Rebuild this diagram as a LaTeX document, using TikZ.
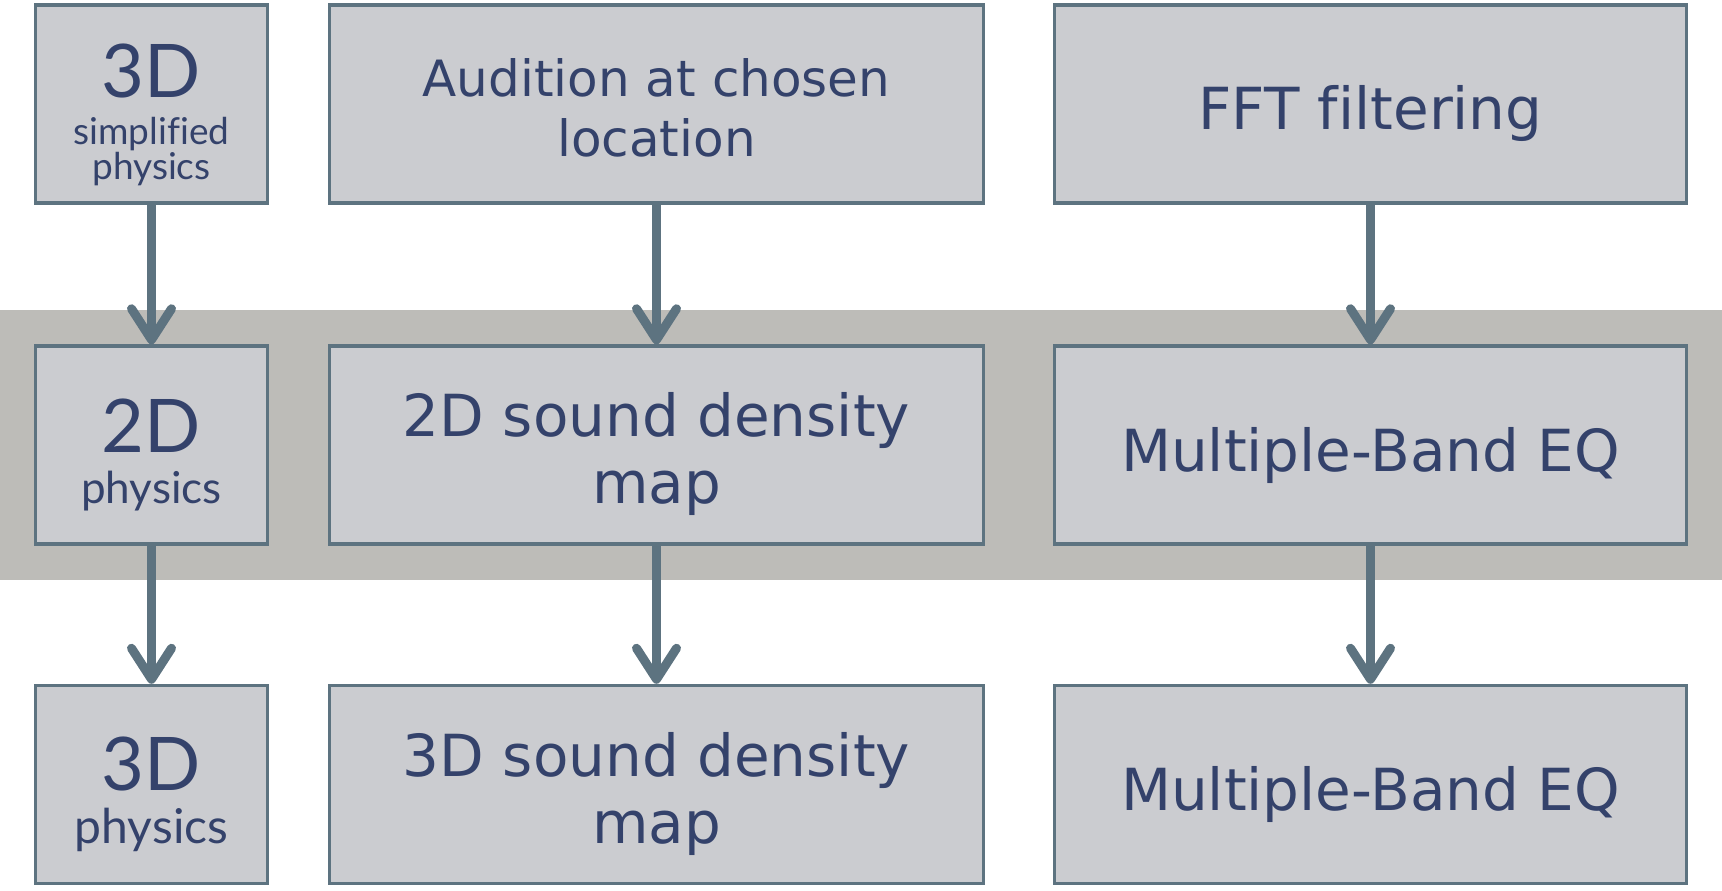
\documentclass[tikz,border=0pt]{standalone}
\usepackage{fontspec}
\setmainfont{DejaVu Sans}[Ligatures=NoCommon]
\newfontfamily\sidefont{Lato}[Ligatures=NoCommon]
\usetikzlibrary{arrows.meta}
\newcommand\rowfont{\fontsize{58}{67}\selectfont}
\newcommand\audfont{\fontsize{50}{60}\selectfont}
\newcommand\sidebig{\sidefont\fontsize{74}{74}\selectfont}
\tikzset{%
  box/.style={rectangle,draw=c1,fill=c0,line width=3.5pt,minimum height=198pt,minimum width=#1,inner sep=0pt},
  box/.default=632pt,
  txt/.style={text=c2,align=center,inner sep=0pt,font=#1},
  txt/.default=\rowfont,
  flow/.style={draw=c1,line width=9pt,-{Straight Barb[length=31pt,width=40pt,round]}}
}
\definecolor{c0}{rgb}{0.796,0.8,0.816}
\definecolor{c1}{rgb}{0.365,0.451,0.502}
\definecolor{c2}{rgb}{0.204,0.259,0.42}
\definecolor{c3}{rgb}{0.741,0.737,0.722}

\begin{document}
\begin{tikzpicture}[x=1pt,y=-1pt]
  \useasboundingbox (0,0) rectangle (1722,891);
  \fill[c3] (0,310) rectangle (1722,580);
  \node[box=232pt] (u0) at (151.5,104) {};
  \node[box=654pt] (u1) at (656.5,104) {};
  \node[box] (u2) at (1370.5,104) {};
  \node[box=232pt] (m0) at (151.5,445) {};
  \node[box=654pt] (m1) at (656.5,445) {};
  \node[box] (m2) at (1370.5,445) {};
  \node[box=232pt] (d0) at (151.5,784.5) {};
  \node[box=654pt] (d1) at (656.5,784.5) {};
  \node[box] (d2) at (1370.5,784.5) {};
  %%%
  \node[txt={\sidefont\fontsize{37}{35}\selectfont}] (s0) at (151.5,115)
    {{\sidebig 3D}\\[12pt]simplified\\physics};
  \node[txt={\sidefont\fontsize{44}{44}\selectfont}] (s1) at (151.5,455)
    {{\sidebig 2D}\\[7pt]physics};
  \node[txt={\sidefont\fontsize{48}{48}\selectfont}] (s2) at (151.5,794.5)
    {{\sidebig 3D}\\[5pt]physics};
  \node[txt=\audfont] (l0) at (656.5,108) {Audition at chosen\\location};
  \node[txt] (l1) at (656.5,453.5) {2D sound density\\map};
  \node[txt] (l2) at (656.5,794) {3D sound density\\map};
  \node[txt] (r0) at (1370.5,113) {FFT filtering};
  \node[txt] (r1) at (1370.5,455) {Multiple-Band EQ};
  \node[txt] (r2) at (1370.5,794) {Multiple-Band EQ};
  %%%
  \draw[flow] (u0)--(m0);
  \draw[flow] (m0)--(d0);
  \draw[flow] (u1)--(m1);
  \draw[flow] (m1)--(d1);
  \draw[flow] (u2)--(m2);
  \draw[flow] (m2)--(d2);
\end{tikzpicture}
\end{document}
